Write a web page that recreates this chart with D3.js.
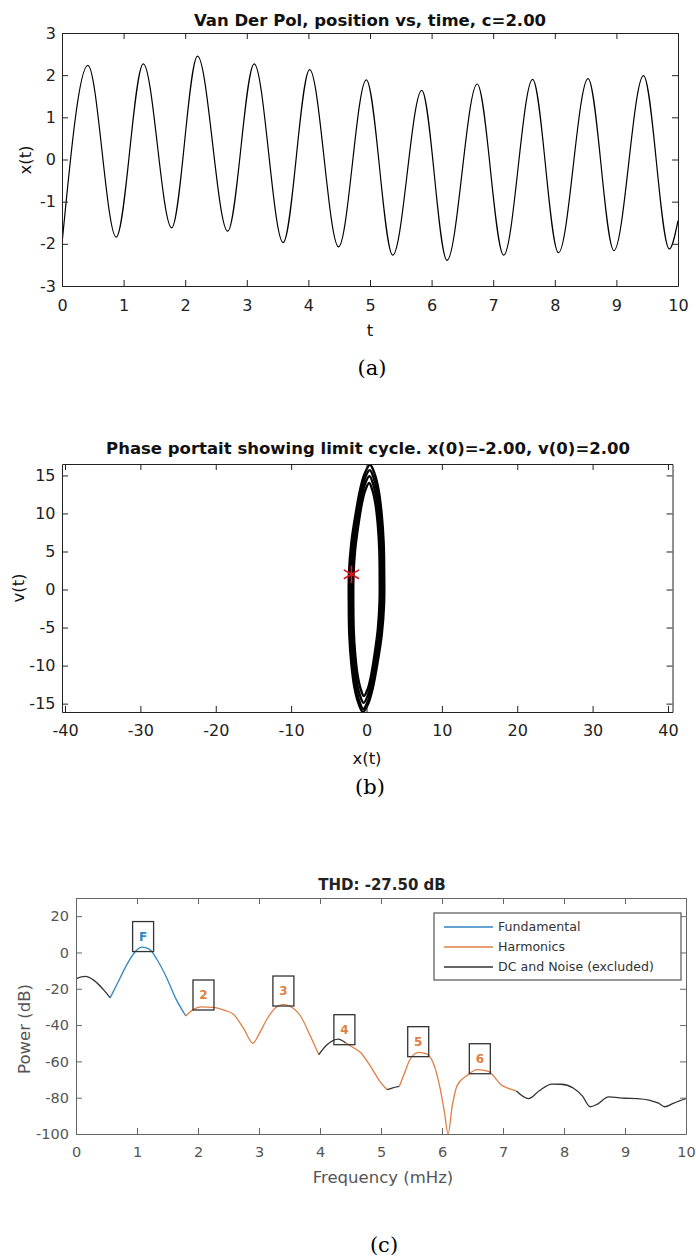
<!DOCTYPE html>
<html lang="en">
<head>
<meta charset="utf-8">
<title>Van Der Pol: position, phase portrait and THD</title>
<script src="https://cdn.jsdelivr.net/npm/d3@7"></script>
<style>
  body { margin: 0; background: #fff; }
  svg { display: block; font-family: "DejaVu Sans", sans-serif; }
  .caption { font-family: "DejaVu Serif", serif; font-size: 21px; fill: #000; }
</style>
</head>
<body>
<script>
// (a) position vs time -- peaks and troughs
var timeT = [0, 0.42, 0.88, 1.32, 1.78, 2.20, 2.69, 3.12, 3.59, 4.02, 4.49, 4.94,
             5.37, 5.84, 6.25, 6.74, 7.17, 7.64, 8.06, 8.54, 8.96, 9.44, 9.86, 10];
var posX = [-2.0, 2.23, -1.84, 2.27, -1.62, 2.45, -1.70, 2.27, -1.97, 2.13, -2.07, 1.89,
            -2.27, 1.64, -2.39, 1.79, -2.27, 1.90, -2.21, 1.92, -2.16, 1.99, -2.12, -1.45];
var tTicks = [0, 1, 2, 3, 4, 5, 6, 7, 8, 9, 10];
var xTicksA = [-3, -2, -1, 0, 1, 2, 3];

// (b) phase portrait -- four of the overlapping cycles, [x, v]
var loop1 = [[-2.35, -1.93], [-2.33, 1.97], [-2.02, 6.07], [-1.46, 9.84], [-0.85, 13.12], [-0.24, 15.25],
             [0.47, 16.4], [1.06, 15.25], [1.6, 13.12], [2.02, 9.84], [2.28, 6.07], [2.35, 1.97],
             [2.33, -1.93], [2.02, -5.96], [1.46, -9.66], [0.85, -12.88], [0.24, -14.97], [-0.47, -16.1],
             [-1.06, -14.97], [-1.6, -12.88], [-2.02, -9.66], [-2.28, -5.96]];
var loop2 = [[-2.15, -1.88], [-2.13, 1.88], [-1.85, 5.81], [-1.33, 9.42], [-0.77, 12.56], [-0.22, 14.6],
             [0.43, 15.7], [0.97, 14.6], [1.46, 12.56], [1.85, 9.42], [2.09, 5.81], [2.15, 1.88],
             [2.13, -1.88], [1.85, -5.81], [1.33, -9.42], [0.77, -12.56], [0.22, -14.6], [-0.43, -15.7],
             [-0.97, -14.6], [-1.46, -12.56], [-1.85, -9.42], [-2.09, -5.81]];
var loop3 = [[-1.95, -1.79], [-1.93, 1.79], [-1.68, 5.51], [-1.21, 8.94], [-0.7, 11.92], [-0.2, 13.86],
             [0.39, 14.9], [0.88, 13.86], [1.33, 11.92], [1.68, 8.94], [1.89, 5.51], [1.95, 1.79],
             [1.93, -1.79], [1.68, -5.51], [1.21, -8.94], [0.7, -11.92], [0.2, -13.86], [-0.39, -14.9],
             [-0.88, -13.86], [-1.33, -11.92], [-1.68, -8.94], [-1.89, -5.51]];
var loop4 = [[-1.75, -1.68], [-1.73, 1.68], [-1.51, 5.18], [-1.09, 8.4], [-0.63, 11.2], [-0.18, 13.02],
             [0.35, 14.0], [0.79, 13.02], [1.19, 11.2], [1.51, 8.4], [1.7, 5.18], [1.75, 1.68],
             [1.73, -1.68], [1.51, -5.18], [1.09, -8.4], [0.63, -11.2], [0.18, -13.02], [-0.35, -14.0],
             [-0.79, -13.02], [-1.19, -11.2], [-1.51, -8.4], [-1.7, -5.18]];
var startPoint = [-2.0, 2.0];
var xTicksB = [-40, -30, -20, -10, 0, 10, 20, 30, 40];
var vTicksB = [-15, -10, -5, 0, 5, 10, 15];

// (c) THD spectrum
var thdFreq = [0.00, 0.15, 0.30, 0.45, 0.56, 0.68, 0.82, 0.96, 1.08, 1.20, 1.33, 1.48, 1.63, 1.80,
               1.92, 2.05, 2.25, 2.45, 2.58, 2.75, 2.90, 3.00, 3.13, 3.27, 3.40, 3.55, 3.68, 3.84,
               3.98, 4.11, 4.30, 4.42, 4.55, 4.66, 4.82, 4.99, 5.10, 5.18, 5.30, 5.37, 5.48, 5.62,
               5.75, 5.89, 5.97, 6.04, 6.10, 6.17, 6.25, 6.40, 6.58, 6.76, 6.98, 7.10, 7.22, 7.42,
               7.60, 7.80, 7.95, 8.15, 8.30, 8.43, 8.55, 8.73, 9.00, 9.20, 9.40, 9.55, 9.65, 9.80, 10.00];
var thdPower = [-14.5, -13.2, -15.5, -20.5, -25.0, -17.0, -7.5, 0.0, 2.9, 1.8, -4.0, -13.5, -25.0, -35.0,
                -31.5, -30.0, -30.2, -32.0, -34.0, -42.0, -50.0, -45.0, -36.8, -30.5, -28.6, -30.5, -35.0, -45.9,
                -56.3, -51.0, -47.7, -49.8, -52.5, -55.0, -62.3, -71.4, -75.6, -74.7, -73.8, -67.8, -58.7, -55.0,
                -55.9, -64.1, -75.0, -88.0, -100.0, -84.0, -73.2, -68.0, -64.5, -65.5, -73.2, -75.0, -76.3, -80.5,
                -76.0, -72.5, -72.6, -74.7, -79.0, -85.0, -83.5, -79.6, -80.3, -80.5, -81.4, -83.0, -85.0, -83.0, -80.5];
// frequency where each coloured stretch begins, and what it is
var bandStart = [0, 0.56, 1.80, 3.98, 4.42, 5.10, 5.30, 7.22];
var bandKind = ["noise", "fund", "harm", "noise", "harm", "noise", "harm", "noise"];
var markerLabel = ["F", "2", "3", "4", "5", "6"];
var markerFreq = [1.10, 2.09, 3.40, 4.40, 5.61, 6.62];
var markerPower = [0.5, -31.7, -29.5, -50.8, -57.4, -66.8];
var legendNames = ["Fundamental", "Harmonics", "DC and Noise (excluded)"];
var fTicks = [0, 1, 2, 3, 4, 5, 6, 7, 8, 9, 10];
var pTicks = [-100, -80, -60, -40, -20, 0, 20];

var kindColor = { fund: "#2f86c0", harm: "#de7f45", noise: "#333" };

var svg = d3.select("body").append("svg")
  .attr("width", 696)
  .attr("height", 1260);

svg.append("rect").attr("width", 696).attr("height", 1260).attr("fill", "#fff");

// box with inward ticks on all four sides, MATLAB style
function drawFrame(g, xs, ys, opt) {
  var left = xs.range()[0], right = xs.range()[1];
  var top = ys.range()[1], bottom = ys.range()[0];
  var fmt = function (d) { return String(d); };
  var axes = [
    [d3.axisBottom(xs).tickValues(opt.xTicks).tickFormat(fmt).tickPadding(opt.padX), 0, bottom],
    [d3.axisTop(xs).tickValues(opt.xTicks).tickFormat(""), 0, top],
    [d3.axisLeft(ys).tickValues(opt.yTicks).tickFormat(fmt).tickPadding(opt.padY), left, 0],
    [d3.axisRight(ys).tickValues(opt.yTicks).tickFormat(""), right, 0]
  ];
  axes.forEach(function (a) {
    var ag = g.append("g")
      .attr("transform", "translate(" + a[1] + "," + a[2] + ")")
      .call(a[0].tickSizeInner(-6).tickSizeOuter(0));
    ag.attr("font-family", null).attr("font-size", opt.fontSize);
    ag.select(".domain").attr("stroke", opt.color);
    ag.selectAll(".tick line").attr("stroke", opt.color);
    ag.selectAll(".tick text").attr("fill", opt.textColor);
  });
}

function addClip(id, xs, ys) {
  svg.append("clipPath").attr("id", id)
    .append("rect")
    .attr("x", xs.range()[0]).attr("y", ys.range()[1])
    .attr("width", xs.range()[1] - xs.range()[0])
    .attr("height", ys.range()[0] - ys.range()[1]);
}

function label(x, y, txt, size, opts) {
  opts = opts || {};
  var t = svg.append("text")
    .attr("transform", "translate(" + x + "," + y + ")" + (opts.rotate ? " rotate(-90)" : ""))
    .attr("text-anchor", "middle")
    .attr("dy", "0.35em")
    .attr("font-size", size)
    .attr("fill", opts.color || "#111")
    .text(txt);
  if (opts.bold) t.attr("font-weight", "bold");
  if (opts.cls) t.attr("class", opts.cls);
  return t;
}

// ---------- (a) ----------
var xA = d3.scaleLinear().domain([0, 10]).range([62, 678]);
var yA = d3.scaleLinear().domain([-3, 3]).range([286, 33]);
addClip("clipA", xA, yA);

svg.append("path")
  .datum(d3.zip(timeT, posX))
  .attr("clip-path", "url(#clipA)")
  .attr("fill", "none")
  .attr("stroke", "#000")
  .attr("stroke-width", 1.2)
  .attr("d", d3.line()
    .x(function (d) { return xA(d[0]); })
    .y(function (d) { return yA(d[1]); })
    .curve(d3.curveMonotoneX));

drawFrame(svg.append("g"), xA, yA, {
  xTicks: tTicks, yTicks: xTicksA, padX: 14, padY: 6,
  fontSize: 16, color: "#222", textColor: "#222"
});
label(370, 20, "Van Der Pol, position vs, time, c=2.00", 16.5, { bold: true });
label(370, 330, "t", 16.5);
label(25, 160, "x(t)", 16.5, { rotate: true });
label(372, 368, "(a)", 21, { cls: "caption", color: "#000" });

// ---------- (b) ----------
var xB = d3.scaleLinear().domain([-40.4, 40.6]).range([62, 672.5]);
var yB = d3.scaleLinear().domain([-16.1, 16.5]).range([712, 464]);
addClip("clipB", xB, yB);

var loopLine = d3.line()
  .x(function (d) { return xB(d[0]); })
  .y(function (d) { return yB(d[1]); })
  .curve(d3.curveCatmullRomClosed);

svg.append("g")
  .attr("clip-path", "url(#clipB)")
  .selectAll("path")
  .data([loop1, loop2, loop3, loop4])
  .enter()
  .append("path")
  .attr("fill", "none")
  .attr("stroke", "#000")
  .attr("stroke-width", 2.4)
  .attr("d", loopLine);

svg.append("path")
  .attr("transform", "translate(" + xB(startPoint[0]) + "," + yB(startPoint[1]) + ")")
  .attr("d", d3.symbol().type(d3.symbolAsterisk).size(220)())
  .attr("fill", "none")
  .attr("stroke", "#e3121b")
  .attr("stroke-width", 1.6);

drawFrame(svg.append("g"), xB, yB, {
  xTicks: xTicksB, yTicks: vTicksB, padX: 13, padY: 6.5,
  fontSize: 16, color: "#222", textColor: "#222"
});
label(368, 448, "Phase portait showing limit cycle. x(0)=-2.00, v(0)=2.00", 16.5, { bold: true });
label(367, 758, "x(t)", 16.5);
label(18, 588, "v(t)", 16.5, { rotate: true });
label(370, 787, "(b)", 21, { cls: "caption", color: "#000" });

// ---------- (c) ----------
var xC = d3.scaleLinear().domain([0, 10]).range([76, 686]);
var yC = d3.scaleLinear().domain([-100, 30]).range([1134, 898]);
addClip("clipC", xC, yC);

var thdPts = d3.zip(thdFreq, thdPower);
var thdLine = d3.line()
  .x(function (d) { return xC(d[0]); })
  .y(function (d) { return yC(d[1]); })
  .curve(d3.curveMonotoneX);

var gC = svg.append("g").attr("clip-path", "url(#clipC)");
bandStart.forEach(function (f0, i) {
  var f1 = i + 1 < bandStart.length ? bandStart[i + 1] : 10;
  var seg = thdPts.filter(function (d) { return d[0] >= f0 - 1e-9 && d[0] <= f1 + 1e-9; });
  gC.append("path")
    .datum(seg)
    .attr("fill", "none")
    .attr("stroke", kindColor[bandKind[i]])
    .attr("stroke-width", 1.3)
    .attr("d", thdLine);
});

// harmonic markers
var mk = svg.append("g").selectAll("g")
  .data(d3.zip(markerLabel, markerFreq, markerPower))
  .enter()
  .append("g")
  .attr("transform", function (d) { return "translate(" + xC(d[1]) + "," + yC(d[2]) + ")"; });
mk.append("rect")
  .attr("x", -10.5).attr("y", -30)
  .attr("width", 21).attr("height", 30)
  .attr("fill", "none")
  .attr("stroke", "#333")
  .attr("stroke-width", 1.3);
mk.append("text")
  .attr("y", -15)
  .attr("dy", "0.35em")
  .attr("text-anchor", "middle")
  .attr("font-size", 12)
  .attr("font-weight", "bold")
  .attr("fill", function (d) { return d[0] === "F" ? kindColor.fund : kindColor.harm; })
  .text(function (d) { return d[0]; });

drawFrame(svg.append("g"), xC, yC, {
  xTicks: fTicks, yTicks: pTicks, padX: 13, padY: 7,
  fontSize: 14.5, color: "#666", textColor: "#555"
});

// legend
var lg = svg.append("g").attr("transform", "translate(434,913)");
lg.append("rect")
  .attr("width", 247).attr("height", 67)
  .attr("fill", "#fff").attr("stroke", "#555").attr("stroke-width", 1.2);
var lgItem = lg.selectAll("g.item")
  .data(legendNames)
  .enter()
  .append("g")
  .attr("class", "item")
  .attr("transform", function (d, i) { return "translate(0," + (14 + i * 20) + ")"; });
lgItem.append("line")
  .attr("x1", 10).attr("x2", 59)
  .attr("stroke", function (d, i) { return kindColor[["fund", "harm", "noise"][i]]; })
  .attr("stroke-width", 1.3);
lgItem.append("text")
  .attr("x", 64)
  .attr("dy", "0.35em")
  .attr("font-size", 12.6)
  .attr("fill", "#333")
  .text(function (d) { return d; });

label(382, 885, "THD: -27.50 dB", 15, { bold: true, color: "#222" });
label(383, 1177, "Frequency (mHz)", 16.5, { color: "#555" });
label(24, 1029, "Power (dB)", 16.5, { rotate: true, color: "#555" });
label(384, 1245, "(c)", 21, { cls: "caption", color: "#000" });
</script>
</body>
</html>
